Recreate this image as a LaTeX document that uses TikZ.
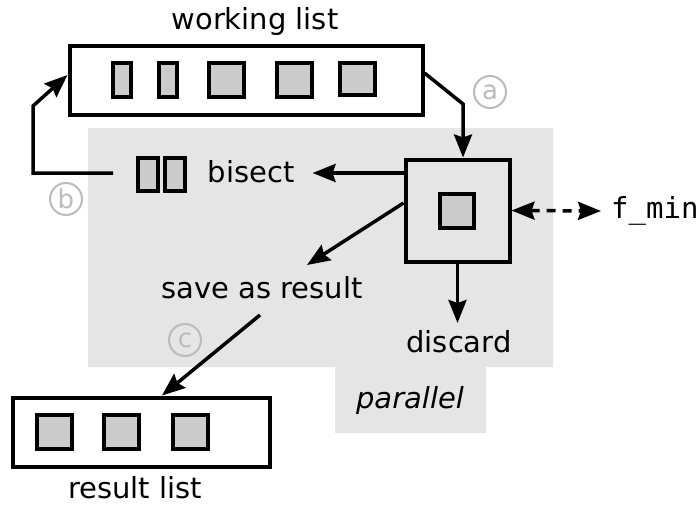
\documentclass[tikz,border=0pt]{standalone}
\usepackage{fontspec}
\setmainfont{DejaVu Sans}
\setmonofont{DejaVu Sans Mono}
\usetikzlibrary{arrows.meta}
\definecolor{bgshade}{HTML}{E5E5E5}
\definecolor{itemfill}{HTML}{CCCCCC}
\definecolor{markgray}{HTML}{BBBBBB}
\tikzset{
  lbl/.style={font=\fontsize{29}{34}\selectfont, inner sep=0pt},
  box/.style={draw, line width=4pt, inner sep=0pt},
  item/.style={draw, line width=4pt, fill=itemfill, inner sep=0pt},
  tip/.tip={Stealth[length=23pt,width=18pt,inset=3pt]},
  arr/.style={line width=3.5pt, -tip},
  darr/.style={line width=3.5pt, dash pattern=on 9pt off 7pt, tip-tip},
  circmark/.style={circle, draw=markgray, line width=2pt, text=markgray,
    minimum size=32pt, inner sep=0pt, font=\fontsize{26}{30}\selectfont},
}
\begin{document}
\begin{tikzpicture}[x=1pt,y=-1pt]
\useasboundingbox (0,0) rectangle (698,508);
% shaded parallel region
\fill[bgshade] (88,128) -- (553,128) -- (553,367) -- (486,367) -- (486,433)
  -- (335,433) -- (335,367) -- (88,367) -- cycle;
% working list
\node[box, fill=white, minimum width=353pt, minimum height=69pt] (wl) at (246,81) {};
\node[item, minimum width=18pt, minimum height=34pt] (w1) at (121.5,80.5) {};
\node[item, minimum width=18pt, minimum height=34pt] (w2) at (167.5,80.5) {};
\node[item, minimum width=35pt, minimum height=34pt] (w3) at (226,80.5) {};
\node[item, minimum width=35pt, minimum height=34pt] (w4) at (294,80.5) {};
\node[item, minimum width=35pt, minimum height=32pt] (w5) at (357,79.5) {};
\node[lbl] (wltext) at (255,22) {working list};
% processing box
\node[box, minimum width=104pt, minimum height=102pt] (proc) at (457.5,210.5) {};
\node[item, minimum width=34pt, minimum height=34pt] (pi) at (456.5,210.5) {};
% bisect
\node[item, minimum width=20pt, minimum height=33pt] (b1) at (147.5,174) {};
\node[item, minimum width=20pt, minimum height=33pt] (b2) at (174.5,174) {};
\node[lbl] (bisect) at (251,172) {bisect};
% save as result
\node[lbl] (save) at (262,288) {save as result};
% discard
\node[lbl] (discard) at (459,342) {discard};
% f_min
\node[lbl, font=\fontsize{29}{34}\selectfont\ttfamily, anchor=west] (fmin) at (611,211) {f\_min};
% parallel
\node[lbl, font=\fontsize{29}{34}\selectfont\itshape] (par) at (410,400) {parallel};
% result list
\node[box, fill=white, minimum width=257pt, minimum height=69pt] (rl) at (141,432) {};
\node[item, minimum width=35pt, minimum height=34pt] (r1) at (54,432) {};
\node[item, minimum width=35pt, minimum height=34pt] (r2) at (121,432) {};
\node[item, minimum width=35pt, minimum height=34pt] (r3) at (190,432) {};
\node[lbl] (rltext) at (135,488) {result list};
% marks
\node[circmark] (ma) at (490,92) {a};
\node[circmark] (mb) at (66,199) {b};
\node[circmark] (mc) at (185,340) {c};
% connectors
\coordinate (aBend) at (463,104);
\draw[arr] ([yshift=8pt]wl.east) -- (aBend) -- (aBend |- proc.north);
\draw[arr] (proc.west |- 0,173) -- ([xshift=18pt]bisect.east |- 0,173);
\coordinate (bStart) at (113,173);
\coordinate (bCorner) at (33,173);
\coordinate (bUp) at (33,106);
\draw[arr] (bStart) -- (bCorner) -- (bUp) -- ([yshift=6pt]wl.west);
\draw[arr] (proc.west |- 0,203) -- (307,265);
\draw[arr] (proc.south) -- (proc.south |- 0,323);
\draw[darr] (proc.east) -- (601,211);
\draw[arr] (260,315) -- (rl.north -| 162,0);
\end{tikzpicture}
\end{document}
